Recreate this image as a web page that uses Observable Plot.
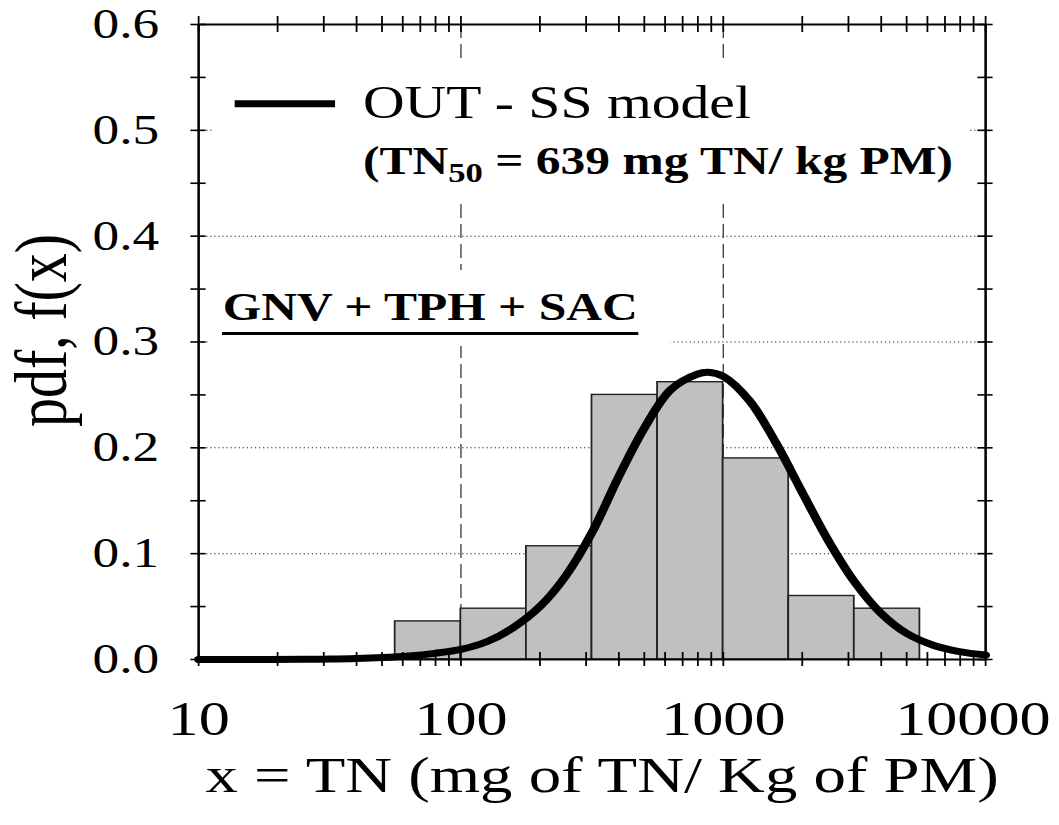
<!DOCTYPE html>
<html><head><meta charset="utf-8">
<script src="https://cdn.jsdelivr.net/npm/d3@7"></script>
<script src="https://cdn.jsdelivr.net/npm/@observablehq/plot@0.6"></script>
<style>
html,body{margin:0;padding:0;background:#fff;overflow:hidden}
#chart{width:1059px;height:825px;overflow:hidden}
#chart svg{transform:scaleX(1.27);transform-origin:0 0;display:block}
</style></head><body><div id="chart"></div>
<script>
// Histogram bins (log-spaced edges) and pdf heights
const binLower = [56.2, 100, 177.8, 316.2, 562.3, 1000, 1778, 3162];
const binUpper = [100, 177.8, 316.2, 562.3, 1000, 1778, 3162, 5623];
const binPdf = [0.036, 0.048, 0.107, 0.250, 0.262, 0.190, 0.060, 0.048];

// Model curve
const curveX = [10, 15.8, 25.1, 31.6, 39.8, 50.1, 63.1, 79.4, 100, 126, 158, 200, 251, 316, 398, 501, 631, 794, 875, 1000, 1259, 1585, 1995, 2512, 3162, 3981, 5012, 6310, 7943, 10000];
const curveY = [0.0, 0.0, 0.0002, 0.0004, 0.0009, 0.0018, 0.0033, 0.0058, 0.0095, 0.017, 0.030, 0.050, 0.079, 0.120, 0.172, 0.219, 0.255, 0.2695, 0.2715, 0.2675, 0.2445, 0.205, 0.1584, 0.1125, 0.0735, 0.044, 0.0245, 0.0135, 0.0075, 0.0042];

// Axes
const xTickLabels = [10, 100, 1000, 10000];
const xMinorTicks = [10, 20, 30, 40, 50, 60, 70, 80, 90, 100, 200, 300, 400, 500, 600, 700, 800, 900, 1000, 2000, 3000, 4000, 5000, 6000, 7000, 8000, 9000, 10000];
const yTickLabels = [0.0, 0.1, 0.2, 0.3, 0.4, 0.5, 0.6];
const yMinorTicks = [0.0, 0.05, 0.1, 0.15, 0.2, 0.25, 0.3, 0.35, 0.4, 0.45, 0.5, 0.55, 0.6];
const yGrid = [0.1, 0.2, 0.3, 0.4, 0.5];
const xGrid = [100, 1000];

// Texts
const xTitle = "x = TN (mg of TN/ Kg of PM)";
const yTitle = "pdf, f(x)";
const legendLabel = "OUT - SS model";
const legendNote = "(TN50 = 639 mg TN/ kg PM)";
const groupLabel = "GNV + TPH + SAC";

const bins = binLower.map((lo, i) => ({lo, hi: binUpper[i], pdf: binPdf[i]}));
const curve = curveX.map((x, i) => ({x, y: curveY[i]}));

const S = 1.27; // horizontal stretch of the original figure
const W = 1059 / S;
const mL = 198 / S, mR = 74 / S, mT = 24, mB = 166, H = 825;
const fw = W - mL - mR, fh = H - mT - mB;

const chart = Plot.plot({
  width: W,
  height: H,
  marginLeft: mL,
  marginRight: mR,
  marginTop: mT,
  marginBottom: mB,
  style: {fontFamily: "'Liberation Serif', 'Times New Roman', serif", background: "white", color: "black"},
  x: {type: "log", domain: [10, 10000], axis: null},
  y: {domain: [0, 0.6], axis: null},
  marks: [
    Plot.ruleY(yGrid, {y: d => d, stroke: "#000", strokeOpacity: 0.85, strokeDasharray: "1,2.2", strokeWidth: 1}),
    Plot.ruleX(xGrid, {x: d => d, stroke: "#333", strokeDasharray: "14,6", strokeWidth: 1}),
    // white backing boxes behind the annotations
    Plot.rect([0], {x1: 11.3, x2: 8690, y1: 0.434, y2: 0.564, fill: "white"}),
    Plot.rect([0], {x1: 11.1, x2: 633, y1: 0.2958, y2: 0.3676, fill: "white"}),
    Plot.rectY(bins, {x1: "lo", x2: "hi", y: "pdf", fill: "#c0c0c0", stroke: "#222", strokeWidth: 1.4}),
    Plot.line(curve, {x: "x", y: "y", stroke: "black", strokeWidth: 7, curve: "catmull-rom"}),
    // legend
    Plot.ruleY([0.525], {y: d => d, x1: 13.8, x2: 33.3, stroke: "black", strokeWidth: 7}),
    Plot.text([legendLabel], {x: 42.3, y: 0.525, text: d => d, textAnchor: "start", lineAnchor: "middle", fontSize: 45.4}),
    Plot.text([legendNote], {x: 42.3, y: 0.4706, text: d => d, textAnchor: "start", lineAnchor: "middle", fontSize: 39, fontWeight: "bold"}),
    Plot.text([groupLabel], {x: 12.35, y: 0.3326, text: d => d, textAnchor: "start", lineAnchor: "middle", fontSize: 39, fontWeight: "bold"}),
    Plot.ruleY([0.308], {y: d => d, x1: 12.35, x2: 477, stroke: "black", strokeWidth: 3}),
    Plot.frame({stroke: "black", strokeWidth: 2}),
    // ticks crossing the frame
    Plot.ruleY(yMinorTicks, {y: d => d, insetLeft: -6, insetRight: fw - 6, stroke: "black", strokeWidth: 1.6}),
    Plot.ruleY(yMinorTicks, {y: d => d, insetLeft: fw - 6, insetRight: -6, stroke: "black", strokeWidth: 1.6}),
    Plot.ruleX(xMinorTicks, {x: d => d, insetTop: -8, insetBottom: fh - 8, stroke: "black", strokeWidth: 1.4}),
    Plot.ruleX(xMinorTicks, {x: d => d, insetTop: fh - 7, insetBottom: -7, stroke: "black", strokeWidth: 1.4}),
    // tick labels
    Plot.text(yTickLabels, {y: d => d, frameAnchor: "left", dx: -31, textAnchor: "end", lineAnchor: "middle", text: d => d3.format(".1f")(d), fontSize: 42}),
    Plot.text(xTickLabels.slice(0, 3), {x: d => d, frameAnchor: "bottom", dy: 41, textAnchor: "middle", lineAnchor: "top", text: d => String(d), fontSize: 49}),
    Plot.text(xTickLabels.slice(3), {x: d => d, frameAnchor: "bottom", dy: 41, dx: -10, textAnchor: "middle", lineAnchor: "top", text: d => String(d), fontSize: 49}),
    // axis titles
    Plot.text([xTitle], {frameAnchor: "bottom", text: d => d, dy: 116, dx: 10 / S, textAnchor: "middle", lineAnchor: "middle", fontSize: 51}),
    Plot.text([yTitle], {frameAnchor: "left", text: d => d, rotate: -90, dx: -123, dy: -11.5, textAnchor: "middle", lineAnchor: "middle", fontSize: 58})
  ]
});

// subscript "50" in the legend note
chart.querySelectorAll("text").forEach(t => {
  if (t.textContent === legendNote) {
    t.textContent = "";
    const ns = "http://www.w3.org/2000/svg";
    const a = document.createElementNS(ns, "tspan"); a.textContent = "(TN";
    const b = document.createElementNS(ns, "tspan"); b.textContent = "50"; b.setAttribute("font-size", "0.7em"); b.setAttribute("dy", "0.3em");
    const c = document.createElementNS(ns, "tspan"); c.textContent = " = 639 mg TN/ kg PM)"; c.setAttribute("dy", "-0.21em");
    t.append(a, b, c);
  }
});

document.getElementById("chart").append(chart);
</script>
</body></html>
